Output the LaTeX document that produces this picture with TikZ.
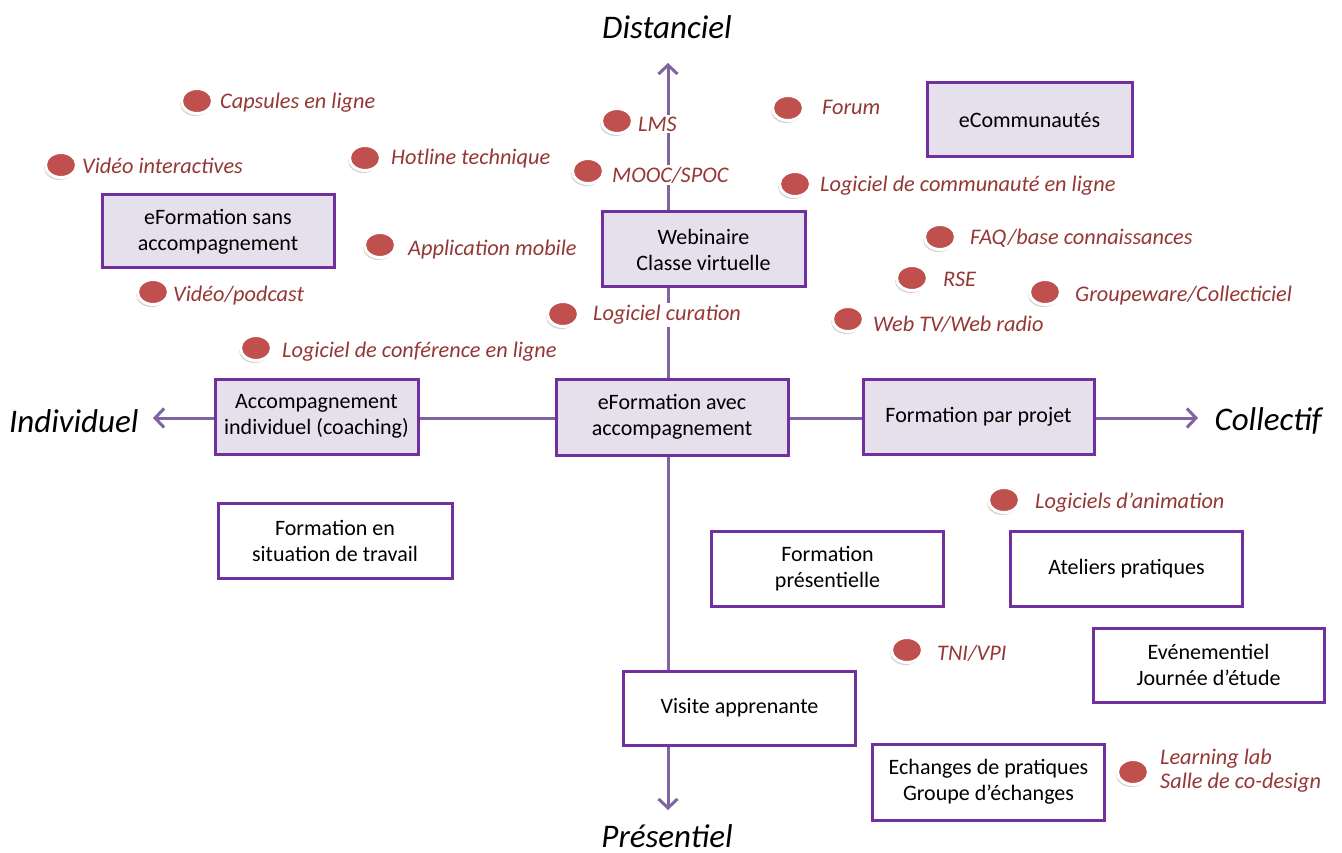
\documentclass[tikz,border=0pt]{standalone}
\usepackage{fontspec}
\setmainfont{Carlito}
\usetikzlibrary{arrows.meta, shapes.geometric, shadows}
\definecolor{violetbord}{HTML}{7030A0}
\definecolor{lavande}{HTML}{E5E0EC}
\definecolor{axeviolet}{HTML}{8064A2}
\definecolor{rougepoint}{HTML}{C0504D}
\definecolor{rougetexte}{HTML}{953735}
\tikzset{
	boite/.style={draw=violetbord, line width=3pt, fill=lavande, minimum width=232pt, minimum height=75pt, align=center, font=\fontsize{22}{26}\selectfont},
	boiteblanche/.style={boite, fill=white},
	point/.style={ellipse, draw=white, line width=3pt, fill=rougepoint, minimum width=31pt, minimum height=25pt, inner sep=0pt, drop shadow={shadow xshift=-1.5pt, shadow yshift=-2.5pt, fill=black!35}},
	etiquette/.style={anchor=west, fill=white, inner sep=2pt, text=rougetexte, align=left, font=\fontsize{22.3}{24}\selectfont\itshape},
	titre/.style={font=\fontsize{33}{36}\selectfont\itshape},
	axe/.style={draw=axeviolet, line width=3pt, -{Straight Barb[length=9pt,width=19pt]}}
}
\begin{document}
\begin{tikzpicture}[x=1pt, y=-1pt]
	\useasboundingbox (0,0) rectangle (1342,853);
	% Axes:
	\coordinate (centre) at (668,418);
	\coordinate (haut) at (668,63);
	\coordinate (bas) at (668,810);
	\coordinate (gauche) at (153,418);
	\coordinate (droite) at (1198,418);
	\draw[axe] (centre) -- (haut);
	\draw[axe] (centre) -- (bas);
	\draw[axe] (centre) -- (gauche);
	\draw[axe] (centre) -- (droite);
	\node[titre] (distanciel) at (667,27) {Distanciel};
	\node[titre] (presentiel) at (667,836) {Présentiel};
	\node[titre, anchor=east] (individuel) at (142,421) {Individuel};
	\node[titre, anchor=west] (collectif) at (1211,421) {Collectif};

	% Boxes:
	\node[boite, minimum width=205pt, minimum height=74pt] (ecommunautes) at (1029.5,120) {eCommunautés};
	\node[boite, minimum height=73pt] (esans) at (218,231.5) {eFormation sans\\accompagnement};
	\node[boite, minimum width=203pt] (webinaire) at (703.5,249.5) {Webinaire\\Classe virtuelle};
	\node[boite, minimum width=203pt] (accompagnement) at (316.5,416.5) {Accompagnement\\individuel (coaching)};
	\node[boite, minimum height=76pt] (eavec) at (672,417) {eFormation avec\\accompagnement};
	\node[boite, minimum width=231pt] (projet) at (978.5,416.5) {Formation par projet};
	\node[boiteblanche, minimum width=234pt] (situation) at (335,540.5) {Formation en\\situation de travail};
	\node[boiteblanche] (presentielle) at (827.5,568.5) {Formation\\présentielle};
	\node[boiteblanche] (ateliers) at (1126.5,568.5) {Ateliers pratiques};
	\node[boiteblanche, minimum width=231pt, minimum height=74pt] (evenementiel) at (1208.5,665) {Evénementiel\\Journée d’étude};
	\node[boiteblanche, minimum height=74pt] (visite) at (739.5,708) {Visite apprenante};
	\node[boiteblanche, minimum height=76pt] (echanges) at (988.5,782) {Echanges de pratiques\\Groupe d’échanges};

	% Tools:
	\node[point] (pCapsules) at (197,101) {};
	\node[etiquette] (tCapsules) at (218,103) {Capsules en ligne};
	\node[point] (pInteractives) at (61,165) {};
	\node[etiquette] (tInteractives) at (80,166) {Vidéo interactives};
	\node[point] (pLms) at (617,121) {};
	\node[etiquette] (tLms) at (636,124) {LMS};
	\node[point] (pForum) at (788,108) {};
	\node[etiquette] (tForum) at (820,107) {Forum};
	\node[point] (pHotline) at (365,158) {};
	\node[etiquette] (tHotline) at (389,159) {Hotline technique};
	\node[point] (pMooc) at (588,171) {};
	\node[etiquette] (tMooc) at (610,175) {MOOC/SPOC};
	\node[point] (pCommunaute) at (795,184) {};
	\node[etiquette] (tCommunaute) at (818,186) {Logiciel de communauté en ligne};
	\node[point] (pMobile) at (380,245) {};
	\node[etiquette] (tMobile) at (406,250) {Application mobile};
	\node[point] (pFaq) at (940,237) {};
	\node[etiquette] (tFaq) at (968,238) {FAQ/base connaissances};
	\node[point] (pPodcast) at (153,292) {};
	\node[etiquette] (tPodcast) at (171,296) {Vidéo/podcast};
	\node[point] (pRse) at (912,278) {};
	\node[etiquette] (tRse) at (941,279) {RSE};
	\node[point] (pGroupeware) at (1045,292) {};
	\node[etiquette] (tGroupeware) at (1073,296) {Groupeware/Collecticiel};
	\node[point] (pCuration) at (563,314) {};
	\node[etiquette] (tCuration) at (591,315) {Logiciel curation};
	\node[point] (pWebtv) at (848,319) {};
	\node[etiquette] (tWebtv) at (871,324) {Web TV/Web radio};
	\node[point] (pConference) at (256,348) {};
	\node[etiquette] (tConference) at (280,352) {Logiciel de conférence en ligne};
	\node[point] (pAnimation) at (1004,500) {};
	\node[etiquette] (tAnimation) at (1033,503) {Logiciels d’animation};
	\node[point] (pTni) at (907,650) {};
	\node[etiquette] (tTni) at (935,653) {TNI/VPI};
	\node[point] (pLab) at (1133,772) {};
	\node[etiquette] (tLab) at (1158,771) {Learning lab\\Salle de co-design};
\end{tikzpicture}
\end{document}
